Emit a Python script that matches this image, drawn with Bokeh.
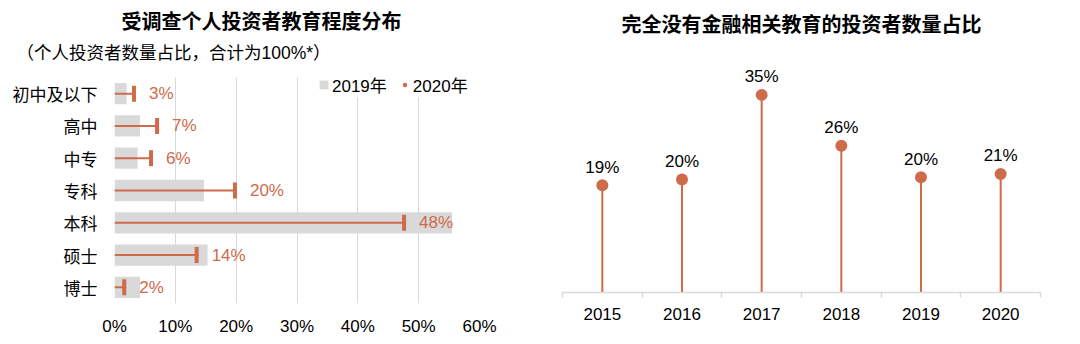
from bokeh.plotting import figure
from bokeh.models import (FactorRange, Range1d, FixedTicker, PrintfTickFormatter,
                          Title, Legend, LegendItem)
from bokeh.layouts import row
from bokeh.embed import file_html
from bokeh.resources import INLINE
from bokeh.core.properties import value

# ---------------- data ----------------
levels = ["初中及以下", "高中", "中专", "专科", "本科", "硕士", "博士"]
share_2019 = [2.0, 4.2, 3.8, 14.7, 55.5, 15.3, 4.2]
share_2020 = [3.2, 7.0, 6.0, 19.8, 47.6, 13.5, 1.6]
labels_2020 = ["3%", "7%", "6%", "20%", "48%", "14%", "2%"]
pct_ticks = [0, 10, 20, 30, 40, 50, 60]

years = ["2015", "2016", "2017", "2018", "2019", "2020"]
no_edu_share = [19, 20, 35, 26, 20.4, 21]
no_edu_labels = ["19%", "20%", "35%", "26%", "20%", "21%"]

# ---------------- styles ----------------
ORANGE = "#CE6B4B"
GREY = "#D9D9D9"
LAT = "Liberation Sans"
MIX = "Liberation Sans, Noto Sans CJK SC"
CJK = "Noto Sans CJK SC"

# ================= left chart =================
p1 = figure(width=540, height=344, title=None,
            y_range=FactorRange(factors=list(reversed(levels))),
            x_range=Range1d(0, 60),
            output_backend="svg", toolbar_location=None,
            min_border_left=114, min_border_right=61,
            min_border_bottom=41, min_border_top=0, frame_align=False)

bars = p1.hbar(y=levels, right=share_2019, left=0, height=0.66,
               fill_color=GREY, line_color=None)
p1.segment(x0=[0] * len(levels), y0=levels, x1=share_2020, y1=levels,
           line_color=ORANGE, line_width=2)
dots = p1.scatter(x=share_2020, y=levels, marker="circle", size=4,
                  fill_color=ORANGE, line_color=None)
p1.rect(x=share_2020, y=levels, width=4, height=16,
        width_units="screen", height_units="screen",
        fill_color=ORANGE, line_color=None)
p1.text(x=share_2020, y=levels, text=labels_2020, x_offset=15,
        text_align="left", text_baseline="middle", text_color=ORANGE,
        text_font=value(LAT), text_font_size="17px")

leg = Legend(items=[LegendItem(label="2019年", renderers=[bars]),
                    LegendItem(label="2020年", renderers=[dots])],
             orientation="horizontal", location=(204, 206),
             glyph_width=11, glyph_height=11, label_standoff=3, spacing=12,
             padding=0, margin=0, border_line_color=None,
             background_fill_color="white", background_fill_alpha=1,
             label_text_font=MIX, label_text_font_size="17px",
             label_height=20, label_text_color="#000000")
p1.add_layout(leg)

p1.xaxis.ticker = FixedTicker(ticks=pct_ticks)
p1.xaxis.formatter = PrintfTickFormatter(format="%d%%")
p1.xaxis.axis_line_color = None
p1.xaxis.major_tick_line_color = None
p1.xaxis.minor_tick_line_color = None
p1.xaxis.major_tick_out = 0
p1.xaxis.major_label_standoff = 13
p1.xaxis.major_label_text_font = LAT
p1.xaxis.major_label_text_font_size = "17px"
p1.xaxis.major_label_text_color = "#000000"

p1.yaxis.axis_line_color = None
p1.yaxis.major_tick_line_color = None
p1.yaxis.major_tick_out = 0
p1.yaxis.major_label_standoff = 17
p1.yaxis.major_label_text_font = CJK
p1.yaxis.major_label_text_font_size = "17px"
p1.yaxis.major_label_text_color = "#000000"

p1.xgrid.grid_line_color = GREY
p1.xgrid.grid_line_width = 1
p1.ygrid.grid_line_color = None
p1.outline_line_color = None

# spacer (nearest the frame), subtitle, main title
p1.add_layout(Title(text=" ", text_font=LAT, text_font_size="8px",
                    standoff=1), "above")
p1.add_layout(Title(text="（个人投资者数量占比，合计为100%*）", align="left",
                    offset=-98, text_font=MIX, text_font_size="17.5px",
                    text_font_style="normal", text_color="#000000",
                    standoff=6), "above")
p1.add_layout(Title(text="受调查个人投资者教育程度分布", align="left",
                    offset=7, text_font=CJK, text_font_size="20px",
                    text_font_style="bold", text_color="#000000",
                    standoff=6), "above")

# ================= right chart =================
pos = [i + 0.5 for i in range(len(years))]
p2 = figure(width=540, height=344, title=None,
            x_range=Range1d(0, len(years)), y_range=Range1d(0, 44.1),
            output_backend="svg", toolbar_location=None,
            min_border_left=22, min_border_right=40,
            min_border_bottom=52, min_border_top=0, frame_align=False)

p2.segment(x0=pos, y0=[0] * len(pos), x1=pos, y1=no_edu_share,
           line_color=ORANGE, line_width=2)
p2.scatter(x=pos, y=no_edu_share, marker="circle", size=12,
           fill_color=ORANGE, line_color=None)
p2.text(x=pos, y=no_edu_share, text=no_edu_labels, y_offset=-18,
        text_align="center", text_baseline="middle", text_color="#000000",
        text_font=value(LAT), text_font_size="17px")

p2.xaxis.ticker = FixedTicker(ticks=pos, minor_ticks=list(range(len(years) + 1)))
p2.xaxis.major_label_overrides = {p: y for p, y in zip(pos, years)}
p2.xaxis.axis_line_color = GREY
p2.xaxis.axis_line_width = 1.5
p2.xaxis.major_tick_line_color = None
p2.xaxis.major_tick_out = 0
p2.xaxis.major_tick_in = 0
p2.xaxis.minor_tick_line_color = GREY
p2.xaxis.minor_tick_line_width = 1.5
p2.xaxis.minor_tick_out = 5
p2.xaxis.minor_tick_in = 0
p2.xaxis.major_label_standoff = 10
p2.xaxis.major_label_text_font = LAT
p2.xaxis.major_label_text_font_size = "17px"
p2.xaxis.major_label_text_color = "#000000"
p2.yaxis.visible = False
p2.xgrid.grid_line_color = None
p2.ygrid.grid_line_color = None
p2.outline_line_color = None

p2.add_layout(Title(text="完全没有金融相关教育的投资者数量占比", align="center",
                    text_font=CJK, text_font_size="20px",
                    text_font_style="bold", text_color="#000000",
                    standoff=12), "above")

layout = row(p1, p2)
open("out.html", "w").write(file_html(layout, INLINE))
